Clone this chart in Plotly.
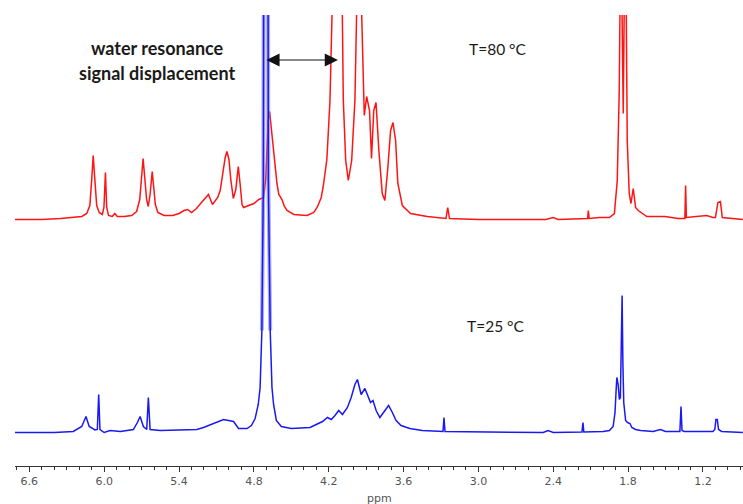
import plotly.graph_objects as go

# ---------------- data ----------------
# T = 80 °C spectrum (red): chemical shift (ppm) and intensity (a.u.)
red_ppm = [6.76, 6.50, 6.35, 6.25, 6.18, 6.14, 6.115, 6.10, 6.088, 6.075, 6.06, 6.04, 6.015,
           6.002, 5.99, 5.98, 5.965, 5.935, 5.915, 5.895, 5.84, 5.78, 5.74, 5.715, 5.70, 5.688,
           5.675, 5.66, 5.647, 5.632, 5.615, 5.603, 5.59, 5.57, 5.52, 5.45, 5.40, 5.36, 5.33,
           5.30, 5.26, 5.22, 5.18, 5.164, 5.132, 5.09, 5.07, 5.05, 5.03, 5.016, 5.00, 4.985,
           4.965, 4.945, 4.925, 4.91, 4.895, 4.883, 4.84, 4.80, 4.76, 4.722, 4.705, 4.695,
           4.685, 4.674, 4.66, 4.642, 4.625, 4.615, 4.60, 4.588, 4.575, 4.555, 4.534, 4.48,
           4.374, 4.32, 4.293, 4.26, 4.243, 4.215, 4.19, 4.163, 4.13, 4.096, 4.083, 4.064,
           4.043, 4.016, 3.99, 3.968, 3.955, 3.941, 3.928, 3.915, 3.896, 3.873, 3.857, 3.839,
           3.821, 3.798, 3.771, 3.75, 3.726, 3.704, 3.685, 3.664, 3.646, 3.61, 3.544, 3.41,
           3.26, 3.246, 3.232, 3.0, 2.46, 2.40, 2.36, 2.125, 2.119, 2.112, 2.03, 1.95, 1.91,
           1.887, 1.871, 1.865, 1.857, 1.848, 1.839, 1.832, 1.82, 1.812, 1.807, 1.791, 1.777,
           1.759, 1.74, 1.719, 1.65, 1.505, 1.40, 1.345, 1.339, 1.333, 1.25, 1.17, 1.12, 1.10,
           1.08, 1.06, 1.045, 0.88]
red_int = [0, 0, 1, 2, 3, 6, 14, 40, 64, 40, 14, 7, 5,
           12, 47, 12, 4, 3, 6, 3, 3, 4, 8, 20, 48, 61,
           42, 20, 13, 25, 48, 35, 15, 7, 4, 4, 6, 9, 10,
           7, 11, 17, 22, 25, 15, 22, 29, 45, 62, 68, 60, 40,
           21, 30, 53, 35, 15, 12, 14, 16, 20, 22, 40, 70,
           100, 108, 90, 69, 45, 36, 25, 22, 20, 13, 9, 5,
           4, 7, 12, 22, 34, 60, 119, 260, 420, 260, 119, 59,
           39, 59, 119, 260, 330, 230, 152, 104, 123, 109, 61, 109,
           117, 69, 26, 19, 52, 89, 97, 79, 36, 14, 6, 3,
           1, 12, 1, 0, 0, 2, 0, 1, 9, 1, 2, 2, 6,
           39, 129, 260, 320, 200, 106, 200, 300, 160, 79, 26, 16,
           31, 12, 9, 3, 3, 1, 1, 34, 2, 3, 4, 2, 2,
           17, 18, 2, 0]

# T = 25 °C spectrum (blue)
blue_ppm = [6.76, 6.40, 6.248, 6.18, 6.146, 6.12, 6.074, 6.055, 6.044, 6.034, 6.0, 5.953,
            5.87, 5.766, 5.734, 5.712, 5.686, 5.659, 5.646, 5.632, 5.55, 5.365, 5.257, 5.204,
            5.124, 5.043, 5.003, 4.963, 4.923, 4.855, 4.82, 4.79, 4.765, 4.75, 4.736, 4.724,
            4.716, 4.704, 4.692, 4.684, 4.669, 4.655, 4.642, 4.62, 4.58, 4.50,
            4.40, 4.35, 4.30, 4.25, 4.21, 4.18, 4.15, 4.12, 4.09, 4.05, 4.02, 3.99, 3.97,
            3.955, 3.94, 3.91, 3.885, 3.865, 3.845, 3.82, 3.79, 3.76, 3.72, 3.69, 3.66, 3.62,
            3.55, 3.45, 3.30, 3.284, 3.276, 3.268, 2.48, 2.442, 2.40, 2.17, 2.162, 2.155,
            2.0, 1.95, 1.92, 1.905, 1.895, 1.89, 1.88, 1.87, 1.862, 1.855, 1.848, 1.842,
            1.835, 1.82, 1.805, 1.785, 1.77, 1.74, 1.70, 1.60, 1.54, 1.50, 1.385, 1.376,
            1.368, 1.35, 1.20, 1.12, 1.105, 1.096, 1.085, 1.075, 1.05, 0.88]
blue_int = [0, 0, 1, 6, 16, 6, 2.5, 3, 38, 3, 0, 2,
            1, 3, 10, 16, 6, 3, 35, 3, 2, 3, 3, 5,
            9, 13, 12, 11, 4, 4, 7, 14, 28, 45, 102, 252,
            900, 1200, 900, 252, 102, 45, 28, 12, 6, 4,
            5, 5, 8, 11, 15, 13, 17, 22, 18, 25, 35, 48, 53,
            45, 38, 44, 35, 30, 32, 22, 15, 20, 27, 20, 12, 7,
            4, 2, 1, 1, 15, 1, 0, 2, 0, 0.5, 10, 0.5,
            1, 2, 6, 20, 45, 55, 48, 33, 35, 80, 137, 70,
            30, 12, 10, 9, 5, 3, 2, 1, 3, 1, 1, 26,
            2, 1, 1, 1, 3, 13, 13, 3, 1, 0]

x_tick_vals = [6.6, 6.0, 5.4, 4.8, 4.2, 3.6, 3.0, 2.4, 1.8, 1.2]
x_tick_text = ["6.6", "6.0", "5.4", "4.8", "4.2", "3.6", "3.0", "2.4", "1.8", "1.2"]

label_hot = "T=80 °C"
label_cold = "T=25 °C"
note_lines = ["water resonance", "signal displacement"]
axis_title = "ppm"
water_ppm_25 = 4.712   # arrow start (water signal at 25 °C)
water_ppm_80 = 4.126   # arrow end (shifted signal at 80 °C)

# ---------------- figure ----------------
RED_OFFSET = 246.5
BLUE_OFFSET = 33.5

fig = go.Figure()
fig.add_trace(go.Scatter(x=red_ppm, y=[v + RED_OFFSET for v in red_int], mode="lines",
                         line=dict(color="rgb(255,20,20)", width=1.5), hoverinfo="skip",
                         showlegend=False))
# translucent halo around the tall water resonance at 25 °C
band = [(p, v + BLUE_OFFSET) for p, v in zip(blue_ppm, blue_int) if 4.6 < p < 4.8 and v >= 102]
fig.add_trace(go.Scatter(x=[b[0] for b in band], y=[b[1] for b in band], mode="lines",
                         line=dict(color="rgba(120,120,235,0.6)", width=4), hoverinfo="skip",
                         showlegend=False))
fig.add_trace(go.Scatter(x=blue_ppm, y=[v + BLUE_OFFSET for v in blue_int], mode="lines",
                         line=dict(color="rgb(25,25,240)", width=1.5), hoverinfo="skip",
                         showlegend=False))

anns = [
    dict(x=water_ppm_80, y=406, ax=water_ppm_25, ay=406, xref="x", yref="y", axref="x",
         ayref="y", text="", showarrow=True, arrowside="end+start", arrowhead=2,
         arrowsize=2.2, arrowwidth=1.2, arrowcolor="#111", standoff=0, startstandoff=0),
    dict(x=5.576, y=418, xref="x", yref="y", text=note_lines[0], showarrow=False,
         font=dict(family="Lato", size=18, color="#1a1a1a", weight="bold")),
    dict(x=5.576, y=393, xref="x", yref="y", text=note_lines[1], showarrow=False,
         font=dict(family="Lato", size=18, color="#1a1a1a", weight="bold")),
    dict(x=2.84, y=417, xref="x", yref="y", text=label_hot, showarrow=False,
         font=dict(family="Lato", size=15.5, color="#1a1a1a")),
    dict(x=2.86, y=140, xref="x", yref="y", text=label_cold, showarrow=False,
         font=dict(family="Lato", size=15.5, color="#1a1a1a")),
    dict(x=0.5, y=0, xref="paper", yref="paper", yanchor="middle", yshift=-32,
         text=axis_title, showarrow=False,
         font=dict(family="DejaVu Sans", size=11, color="#555")),
]

fig.update_layout(
    width=743, height=504,
    margin=dict(l=15, r=0, t=15, b=38),
    paper_bgcolor="white", plot_bgcolor="white",
    annotations=anns,
    xaxis=dict(range=[6.715, 0.879], tickvals=x_tick_vals, ticktext=x_tick_text,
               ticks="outside", ticklen=5, tickwidth=1, tickcolor="#333",
               showline=True, linecolor="#333", linewidth=1.2,
               showgrid=False, zeroline=False, automargin=False,
               minor=dict(tick0=1.2, dtick=0.1, ticks="outside", ticklen=3, tickcolor="#333",
                          showgrid=False),
               tickfont=dict(family="DejaVu Sans", size=11, color="#555")),
    yaxis=dict(range=[0, 451], visible=False, showgrid=False, zeroline=False,
               automargin=False),
)

fig.write_html("out.html", config={"displayModeBar": False},
               post_script="document.body.style.margin='0';document.body.style.padding='0';")
